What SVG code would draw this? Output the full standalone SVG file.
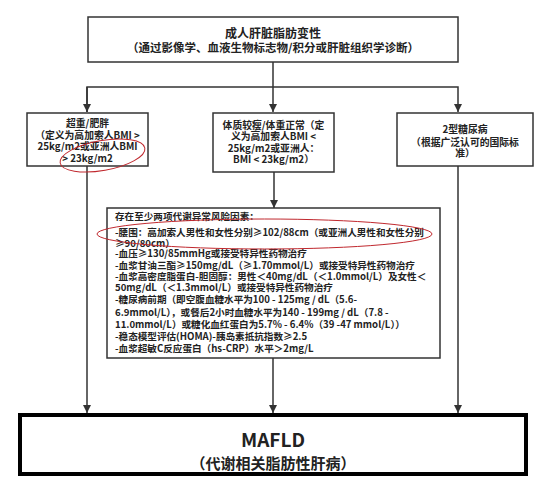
<svg xmlns="http://www.w3.org/2000/svg" width="558" height="493" viewBox="0 0 558 493">
<style>
.box{fill:#fff;stroke:#333;stroke-width:1.5}
.t{font-family:"Noto Sans CJK SC","Noto Sans",sans-serif;font-weight:bold;fill:#222}
.c{text-anchor:middle}
.ln{fill:none;stroke:#333;stroke-width:1.5}
.hl{fill:none;stroke:#c0282e;stroke-width:1}
</style>
<defs>
<marker id="ah" viewBox="0 0 10 10" refX="10" refY="5" markerWidth="8" markerHeight="8" markerUnits="userSpaceOnUse" orient="auto">
<path d="M0,0 L10,5 L0,10 z" fill="#333"/>
</marker>
</defs>
<rect width="558" height="493" fill="#fff"/>
<g id="connectors">
<path class="ln" d="M273,62 V112" marker-end="url(#ah)"/>
<path class="ln" d="M87,112 V87 H458 V112" marker-end="url(#ah)"/>
<path class="ln" d="M87,87 V112" marker-end="url(#ah)"/>
<path class="ln" d="M274,172 V208" marker-end="url(#ah)"/>
<path class="ln" d="M87,166 V413" marker-end="url(#ah)"/>
<path class="ln" d="M273,358 V413" marker-end="url(#ah)"/>
<path class="ln" d="M458,166 V413" marker-end="url(#ah)"/>
</g>
<g id="top">
<rect class="box" x="88" y="17" width="370" height="45"/>
<text class="t c" x="273" y="37.5" font-size="12">成人肝脏脂肪变性</text>
<text class="t c" x="273" y="51.5" font-size="11.5">（通过影像学、血液生物标志物/积分或肝脏组织学诊断）</text>
</g>
<g id="overweight">
<rect class="box" x="27" y="113" width="121" height="53"/>
<text class="t c" font-size="9.8" x="87.5" y="127">超重/肥胖</text>
<text class="t c" font-size="9.8" x="87.5" y="139">（定义为高加索人BMI &gt;</text>
<text class="t c" font-size="9.8" x="87.5" y="150">25kg/m2或亚洲人BMI</text>
<text class="t c" font-size="9.8" x="87.5" y="162">&gt; 23kg/m2</text>
<ellipse class="hl" cx="102.5" cy="155.5" rx="43" ry="15" transform="rotate(-10 102.5 155.5)"/>
</g>
<g id="lean">
<rect class="box" x="213" y="113" width="121" height="59"/>
<text class="t c" font-size="9.8" x="273.5" y="129">体质较瘦/体重正常（定</text>
<text class="t c" font-size="9.8" x="273.5" y="140">义为高加索人BMI &lt;</text>
<text class="t c" font-size="9.8" x="273.5" y="152">25kg/m2或亚洲人：</text>
<text class="t c" font-size="9.8" x="273.5" y="163">BMI &lt; 23kg/m2）</text>
</g>
<g id="diabetes">
<rect class="box" x="397" y="113" width="136" height="53"/>
<text class="t c" font-size="9.8" x="465" y="133">2型糖尿病</text>
<text class="t c" font-size="9.8" x="465" y="146">（根据广泛认可的国际标</text>
<text class="t c" font-size="9.8" x="465" y="157">准）</text>
</g>
<g id="risk">
<rect class="box" x="107" y="208" width="333" height="150"/>
<g class="t" font-size="9.6">
<text x="115" y="219.5">存在至少两项代谢异常风险因素：</text>
<text x="115" y="235.5">-腰围：高加索人男性和女性分别≥102/88cm（或亚洲人男性和女性分别</text>
<text x="115" y="246.5">≥90/80cm）</text>
<text x="115" y="257">-血压≥130/85mmHg或接受特异性药物治疗</text>
<text x="115" y="268.5">-血浆甘油三酯≥150mg/dL（≥1.70mmol/L）或接受特异性药物治疗</text>
<text x="115" y="280">-血浆高密度脂蛋白-胆固醇：男性＜40mg/dL（＜1.0mmol/L）及女性＜</text>
<text x="115" y="291">50mg/dL（＜1.3mmol/L）或接受特异性药物治疗</text>
<text x="115" y="302.5">-糖尿病前期（即空腹血糖水平为100 - 125mg / dL（5.6-</text>
<text x="115" y="316">6.9mmol/L），或餐后2小时血糖水平为140 - 199mg / dL（7.8 -</text>
<text x="115" y="328">11.0mmol/L）或糖化血红蛋白为5.7% - 6.4%（39 -47 mmol/L））</text>
<text x="115" y="339.5">-稳态模型评估(HOMA)-胰岛素抵抗指数≥2.5</text>
<text x="115" y="351.5">-血浆超敏C反应蛋白（hs-CRP）水平＞2mg/L</text>
</g>
<ellipse class="hl" cx="264.5" cy="234" rx="167.5" ry="15"/>
</g>
<g id="mafld">
<rect x="20" y="415" width="506" height="59" fill="#fff" stroke="#000" stroke-width="4"/>
<text class="t c" x="273" y="447" font-size="19" fill="#111">MAFLD</text>
<text class="t c" x="273" y="469" font-size="15" fill="#111">（代谢相关脂肪性肝病）</text>
</g>
</svg>
